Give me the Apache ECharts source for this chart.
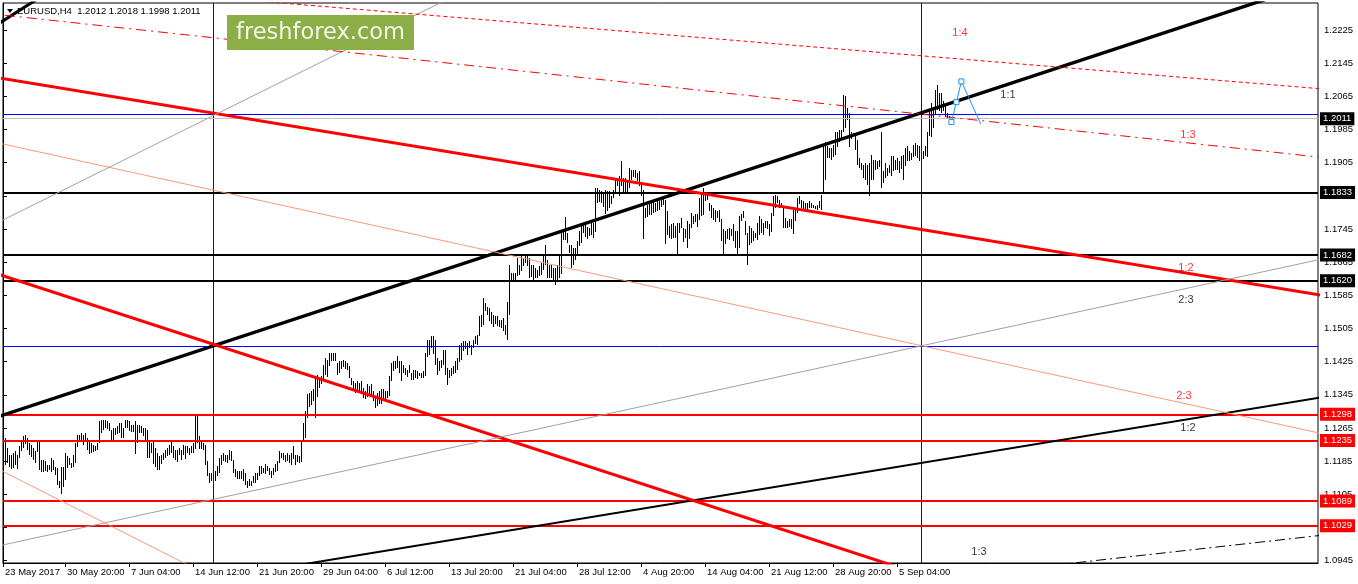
<!DOCTYPE html>
<html><head><meta charset="utf-8">
<script src="https://cdn.jsdelivr.net/npm/echarts@6/dist/echarts.min.js"></script>
<style>html,body{margin:0;padding:0;background:#fff}#c{width:1358px;height:584px}</style>
</head><body><div id="c"></div>
<script>
// ---- data ----
const FIRST_BAR = 1; // index of first bar in highs/lows
const highs = [
1.1241,1.1217,1.1201,1.1201,1.1205,1.1209,1.1201,1.1221,1.1233,1.1245,
1.1247,1.1241,1.1229,1.1225,1.1217,1.1209,1.1237,1.1237,1.1189,1.1189,
1.1185,1.1176,1.1176,1.1193,1.1189,1.1172,1.1168,1.1136,1.1172,1.1172,
1.1205,1.1197,1.1193,1.1180,1.1201,1.1229,1.1249,1.1249,1.1253,1.1249,
1.1253,1.1241,1.1233,1.1229,1.1225,1.1221,1.1229,1.1281,1.1285,1.1285,
1.1285,1.1281,1.1277,1.1261,1.1265,1.1265,1.1269,1.1277,1.1277,1.1265,
1.1285,1.1285,1.1281,1.1273,1.1273,1.1281,1.1273,1.1273,1.1269,1.1265,
1.1265,1.1261,1.1233,1.1229,1.1237,1.1217,1.1205,1.1197,1.1201,1.1205,
1.1213,1.1217,1.1225,1.1233,1.1221,1.1213,1.1213,1.1217,1.1213,1.1225,
1.1221,1.1221,1.1217,1.1221,1.1229,1.1293,1.1293,1.1245,1.1233,1.1229,
1.1225,1.1185,1.1157,1.1157,1.1157,1.1161,1.1173,1.1193,1.1201,1.1205,
1.1201,1.1201,1.1213,1.1209,1.1189,1.1165,1.1161,1.1161,1.1161,1.1165,
1.1157,1.1137,1.1141,1.1137,1.1149,1.1157,1.1157,1.1173,1.1173,1.1169,
1.1177,1.1173,1.1169,1.1161,1.1169,1.1177,1.1185,1.1209,1.1205,1.1205,
1.1201,1.1205,1.1201,1.1205,1.1221,1.1201,1.1201,1.1197,1.1237,1.1277,
1.1305,1.1346,1.1350,1.1354,1.1358,1.1386,1.1394,1.1386,1.1390,1.1418,
1.1434,1.1430,1.1446,1.1446,1.1446,1.1446,1.1422,1.1426,1.1426,1.1428,
1.1426,1.1422,1.1414,1.1386,1.1378,1.1374,1.1378,1.1374,1.1378,1.1362,
1.1354,1.1370,1.1366,1.1370,1.1354,1.1342,1.1350,1.1354,1.1358,1.1358,
1.1354,1.1354,1.1390,1.1422,1.1426,1.1426,1.1438,1.1426,1.1426,1.1418,
1.1410,1.1406,1.1418,1.1398,1.1406,1.1406,1.1402,1.1398,1.1398,1.1402,
1.1446,1.1478,1.1478,1.1486,1.1486,1.1478,1.1434,1.1426,1.1430,1.1454,
1.1454,1.1410,1.1406,1.1410,1.1414,1.1426,1.1434,1.1466,1.1470,1.1474,
1.1474,1.1470,1.1474,1.1466,1.1478,1.1486,1.1490,1.1534,1.1538,1.1579,
1.1566,1.1558,1.1554,1.1546,1.1538,1.1534,1.1534,1.1526,1.1526,1.1530,
1.1514,1.1570,1.1659,1.1639,1.1639,1.1639,1.1675,1.1659,
1.1679,1.1675,1.1683,1.1679,1.1675,1.1659,1.1659,1.1651,1.1647,1.1655,
1.1663,1.1683,1.1707,1.1671,1.1659,1.1659,1.1651,1.1651,1.1659,1.1679,
1.1739,1.1743,1.1775,1.1735,1.1707,1.1707,1.1699,1.1699,1.1715,1.1739,
1.1759,1.1755,1.1763,1.1751,1.1747,1.1759,1.1759,1.1844,1.1844,1.1840,
1.1836,1.1832,1.1840,1.1836,1.1836,1.1824,1.1840,1.1868,1.1868,1.1872,
1.1908,1.1868,1.1868,1.1864,1.1892,1.1888,1.1888,1.1888,1.1880,1.1884,
1.1856,1.1840,1.1795,1.1804,1.1808,1.1808,1.1812,1.1808,1.1812,1.1812,
1.1820,1.1820,
1.1816,1.1788,1.1752,1.1756,1.1760,1.1752,1.1760,1.1760,1.1772,1.1748,
1.1744,1.1764,1.1756,1.1784,1.1776,1.1780,1.1780,1.1820,1.1832,1.1844,
1.1832,1.1832,1.1808,1.1804,1.1796,1.1792,1.1788,1.1792,1.1768,1.1744,
1.1739,1.1744,1.1748,1.1744,1.1756,1.1739,1.1739,1.1776,1.1780,1.1788,
1.1764,1.1735,1.1752,1.1748,1.1739,1.1735,1.1760,1.1776,1.1768,1.1760,
1.1764,1.1764,1.1756,1.1784,1.1824,1.1828,1.1824,1.1816,1.1808,1.1800,
1.1772,1.1764,1.1768,1.1768,1.1792,1.1796,1.1820,1.1824,1.1816,1.1812,
1.1808,1.1808,1.1812,
1.1808,1.1804,1.1800,1.1804,1.1812,1.1828,1.1944,1.1956,1.1944,1.1940,
1.1940,1.1948,1.1980,1.1980,1.1984,1.1984,1.2069,1.2065,1.2037,1.2025,
1.1980,1.1976,1.1972,1.1960,1.1916,1.1904,1.1900,1.1904,1.1900,1.1904,
1.1924,1.1912,1.1912,1.1908,1.1912,1.1980,1.1884,1.1904,1.1892,1.1900,
1.1920,1.1920,1.1912,1.1916,1.1908,1.1920,1.1924,1.1940,1.1944,1.1932,
1.1928,1.1948,1.1952,1.1948,1.1944,1.1936,1.1932,1.1944,1.1980,1.2029,
1.2049,1.2037,1.2081,1.2093,1.2073,1.2073,1.2053,1.2045,1.2025,1.2018
];
const lows = [
1.1176,1.1180,1.1172,1.1168,1.1168,1.1176,1.1168,1.1193,1.1209,1.1217,
1.1225,1.1213,1.1201,1.1197,1.1189,1.1180,1.1209,1.1164,1.1160,1.1160,
1.1160,1.1160,1.1164,1.1160,1.1164,1.1152,1.1128,1.1120,1.1108,1.1124,
1.1140,1.1168,1.1176,1.1168,1.1172,1.1180,1.1221,1.1233,1.1233,1.1225,
1.1237,1.1213,1.1201,1.1205,1.1209,1.1209,1.1213,1.1229,1.1253,1.1261,
1.1265,1.1261,1.1257,1.1233,1.1237,1.1249,1.1249,1.1253,1.1241,1.1241,
1.1265,1.1265,1.1257,1.1257,1.1257,1.1201,1.1229,1.1253,1.1253,1.1245,
1.1237,1.1193,1.1193,1.1205,1.1180,1.1172,1.1164,1.1164,1.1180,1.1189,
1.1193,1.1197,1.1201,1.1205,1.1193,1.1189,1.1185,1.1201,1.1189,1.1201,
1.1189,1.1205,1.1201,1.1205,1.1205,1.1213,1.1229,1.1213,1.1213,1.1213,
1.1177,1.1149,1.1133,1.1137,1.1141,1.1137,1.1149,1.1157,1.1177,1.1185,
1.1185,1.1181,1.1189,1.1185,1.1157,1.1145,1.1141,1.1141,1.1141,1.1137,
1.1129,1.1121,1.1125,1.1125,1.1133,1.1133,1.1141,1.1149,1.1153,1.1157,
1.1153,1.1161,1.1153,1.1145,1.1153,1.1157,1.1161,1.1181,1.1193,1.1189,
1.1185,1.1185,1.1181,1.1177,1.1189,1.1177,1.1185,1.1181,1.1185,1.1233,
1.1241,1.1289,1.1317,1.1321,1.1329,1.1289,1.1341,1.1362,1.1370,1.1382,
1.1394,1.1390,1.1414,1.1426,1.1426,1.1426,1.1394,1.1398,1.1406,1.1410,
1.1406,1.1406,1.1386,1.1370,1.1354,1.1350,1.1354,1.1354,1.1346,1.1338,
1.1334,1.1338,1.1346,1.1342,1.1330,1.1314,1.1318,1.1322,1.1322,1.1330,
1.1330,1.1338,1.1342,1.1378,1.1402,1.1406,1.1410,1.1398,1.1378,1.1398,
1.1394,1.1390,1.1398,1.1382,1.1382,1.1386,1.1382,1.1390,1.1386,1.1386,
1.1390,1.1438,1.1442,1.1458,1.1442,1.1418,1.1394,1.1402,1.1410,1.1418,
1.1394,1.1370,1.1386,1.1390,1.1394,1.1398,1.1406,1.1426,1.1430,1.1450,
1.1454,1.1442,1.1458,1.1442,1.1458,1.1466,1.1466,1.1486,1.1510,1.1514,
1.1546,1.1538,1.1522,1.1518,1.1510,1.1514,1.1510,1.1510,1.1506,1.1498,
1.1490,1.1478,1.1538,1.1623,1.1619,1.1623,1.1631,1.1635,
1.1643,1.1655,1.1663,1.1655,1.1627,1.1631,1.1623,1.1627,1.1627,1.1631,
1.1635,1.1647,1.1659,1.1627,1.1627,1.1627,1.1619,1.1611,1.1619,1.1627,
1.1635,1.1719,1.1719,1.1711,1.1687,1.1651,1.1659,1.1671,1.1679,1.1703,
1.1711,1.1735,1.1727,1.1723,1.1727,1.1731,1.1723,1.1739,1.1808,1.1812,
1.1808,1.1799,1.1783,1.1787,1.1795,1.1804,1.1820,1.1832,1.1848,1.1824,
1.1848,1.1832,1.1832,1.1832,1.1844,1.1864,1.1872,1.1868,1.1860,1.1848,
1.1824,1.1723,1.1771,1.1775,1.1779,1.1779,1.1783,1.1787,1.1787,1.1791,
1.1799,1.1804,
1.1711,1.1731,1.1723,1.1719,1.1723,1.1723,1.1683,1.1735,1.1748,1.1715,
1.1723,1.1699,1.1719,1.1748,1.1756,1.1760,1.1748,1.1768,1.1776,1.1780,
1.1812,1.1816,1.1788,1.1772,1.1768,1.1764,1.1772,1.1764,1.1715,1.1683,
1.1707,1.1719,1.1719,1.1727,1.1715,1.1699,1.1679,1.1699,1.1764,1.1772,
1.1731,1.1659,1.1707,1.1711,1.1715,1.1723,1.1719,1.1731,1.1735,1.1731,
1.1748,1.1744,1.1727,1.1739,1.1776,1.1796,1.1808,1.1796,1.1796,1.1748,
1.1748,1.1748,1.1748,1.1744,1.1735,1.1764,1.1784,1.1804,1.1796,1.1792,
1.1792,1.1788,1.1796,
1.1796,1.1796,1.1792,1.1792,1.1796,1.1792,1.1828,1.1864,1.1916,1.1916,
1.1912,1.1920,1.1924,1.1944,1.1956,1.1960,1.1980,1.1988,1.2009,1.1944,
1.1964,1.1968,1.1936,1.1900,1.1892,1.1888,1.1868,1.1864,1.1852,1.1824,
1.1864,1.1864,1.1888,1.1888,1.1896,1.1844,1.1856,1.1868,1.1872,1.1880,
1.1872,1.1884,1.1888,1.1888,1.1880,1.1888,1.1864,1.1896,1.1908,1.1908,
1.1912,1.1920,1.1920,1.1916,1.1908,1.1916,1.1912,1.1920,1.1920,1.1968,
1.1968,1.1988,1.2021,1.2033,1.2029,1.2025,1.2029,1.2017,1.2013,1.1998
];
const tickLabels = ["23 May 2017","30 May 20:00","7 Jun 04:00","14 Jun 12:00","21 Jun 20:00","29 Jun 04:00","6 Jul 12:00","13 Jul 20:00","21 Jul 04:00","28 Jul 12:00","4 Aug 20:00","14 Aug 04:00","21 Aug 12:00","28 Aug 20:00","5 Sep 04:00"];
const tickBars = [0,31,63,95,127,159,191,223,255,287,319,351,383,415,447];
const priceTicks = [1.0945,1.1025,1.1105,1.1185,1.1265,1.1345,1.1425,1.1505,1.1585,1.1665,1.1745,1.1825,1.1905,1.1985,1.2065,1.2145,1.2225];
const blackLevels = [1.1833,1.1682,1.1620];
const redLevels = [1.1298,1.1235,1.1089,1.1029];
const bidPrice = 1.2011;
const blueLevels = [1.2022,1.1463];
const blueVerticalBars = [105,459];
const titleText = "EURUSD,H4  1.2012 1.2018 1.1998 1.2011";
// trend line anchors [bar, price]
const trendAnchors = {
  fanMain:   [[105,1.1463],[401,1.1933]],
  fanTop:    [[0,1.2247],[14,1.2290]],
  fan12:     [[573.5,1.1271],[657,1.1337]],
  fan13:     [[573.5,1.0960],[657,1.1005]],
  redUpper:  [[0,1.2108],[657,1.1587]],
  redLower:  [[0,1.1632],[439.5,1.0942]],
  salmon:    [[0,1.1950],[657,1.1254]],
  salmonLeft:[[0,1.1160],[27.5,1.1093]],
  grayUp:    [[21,1.1817],[218.5,1.2290]],
  grayLow:   [[0,1.0983],[657,1.1670]],
  red14:     [[137,1.2291],[657,1.2084]],
  red13:     [[0,1.2261],[657,1.1919]]
};
const ratioLabels = [
  {text:'1:4', bar:478.5, price:1.2218, kind:'red'},
  {text:'1:1', bar:502.5, price:1.2068, kind:'black'},
  {text:'1:3', bar:592.5, price:1.1972, kind:'red'},
  {text:'1:2', bar:591.5, price:1.1651, kind:'red'},
  {text:'2:3', bar:591.5, price:1.1574, kind:'black'},
  {text:'2:3', bar:590.5, price:1.1342, kind:'red'},
  {text:'1:2', bar:592.5, price:1.1265, kind:'black'},
  {text:'1:3', bar:488,   price:1.0966, kind:'black'}
];
const patternPts = [[474.2,1.2003],[476.7,1.2051],[479.2,1.2101],[488.9,1.1998]];

// ---- styles / layout ----
const X_MIN = 0, X_MAX = 657.5, Y_MIN = 1.09394, Y_MAX = 1.22901;
const FONT = 'Liberation Sans';
const lineStyles = {
  fanMain:{color:'#000',width:3.4}, fanTop:{color:'#000',width:3},
  fan12:{color:'#000',width:2}, fan13:{color:'#000',width:1,type:[10,4,2,4]},
  redUpper:{color:'#ff0000',width:3}, redLower:{color:'#ff0000',width:3},
  salmon:{color:'#f89a78',width:1}, salmonLeft:{color:'#f89a78',width:1},
  grayUp:{color:'#a0a0a0',width:1}, grayLow:{color:'#a0a0a0',width:1},
  red14:{color:'#ff0000',width:1,type:[4,3]}, red13:{color:'#ff0000',width:1,type:[10,5,2,5]}
};
function ray(a,b){
  const s=(b[1]-a[1])/(b[0]-a[0]);
  const x0=X_MIN-10, x1=X_MAX+10;
  return [[x0,a[1]+s*(x0-a[0])],[x1,a[1]+s*(x1-a[0])]];
}
const series = [];
series.push({
  type:'custom', name:'bars', silent:true, z:3, clip:true,
  data: highs.map((h,i)=>[i+FIRST_BAR,h,lows[i]]),
  encode:{x:0,y:[1,2]},
  renderItem(params, api){
    const x=api.value(0), p1=api.coord([x,api.value(1)]), p2=api.coord([x,api.value(2)]);
    return {type:'rect', shape:{x:Math.round(p1[0]), y:Math.round(p1[1]), width:1, height:Math.max(1,Math.round(p2[1]-p1[1]))}, style:{fill:'#000'}};
  }
});
Object.keys(trendAnchors).forEach(k=>{
  const [a,b]=trendAnchors[k];
  series.push({type:'line', silent:true, clip:true, z:5, symbol:'none', animation:false,
    data: ray(a,b), lineStyle: lineStyles[k]});
});
function levelLabel(bg){
  return {show:true, position:'end', distance:2, formatter:p=>Number(p.value).toFixed(4),
    backgroundColor:bg, color:'#fff', fontFamily:FONT, fontSize:9.5, padding:[2,3,1,3], lineHeight:10};
}
const markData = [];
blueLevels.forEach(v=>markData.push({yAxis:v, lineStyle:{color:'#0000ff',width:1,type:'solid'}, label:{show:false}}));
blueVerticalBars.forEach(v=>markData.push({xAxis:v, lineStyle:{color:'#0000ff',width:1,type:'solid'}, label:{show:false}}));
markData.push({yAxis:bidPrice, lineStyle:{color:'#c0c0c0',width:1,type:'solid'}, label:levelLabel('#000')});
blackLevels.forEach(v=>markData.push({yAxis:v, lineStyle:{color:'#000',width:2,type:'solid'}, label:levelLabel('#000')}));
redLevels.forEach(v=>markData.push({yAxis:v, lineStyle:{color:'#ff0000',width:2,type:'solid'}, label:levelLabel('#ff0000')}));
series.push({type:'line', data:[], silent:true, z:4, animation:false,
  markLine:{symbol:'none', silent:true, animation:false, precision:5, data:markData}});
series.push({type:'line', silent:true, z:6, animation:false, clip:false,
  data: patternPts.map((p,i)=>({value:p, symbol: i<3?'rect':'none'})),
  symbolSize:5, showAllSymbol:true,
  itemStyle:{color:'#fff', borderColor:'#1e90ff', borderWidth:1},
  lineStyle:{color:'#1e90ff', width:1}});
series.push({type:'scatter', silent:true, z:7, animation:false, symbolSize:1,
  itemStyle:{color:'rgba(0,0,0,0)'},
  data: ratioLabels.map(r=>({value:[r.bar,r.price], name:r.text,
    label:{show:true, position:'inside', formatter:r.text, color: r.kind==='red'?'#ff0000':'#000', fontFamily:FONT, fontSize:11}}))});

const option = {
  animation:false,
  backgroundColor:'#fff',
  grid:{left:3, top:3, width:1315, height:560, show:true, borderColor:'#000', borderWidth:1, backgroundColor:'#fff'},
  xAxis:{type:'value', min:X_MIN, max:X_MAX,
    axisLine:{show:true, lineStyle:{color:'#000'}},
    splitLine:{show:false},
    axisTick:{show:true, customValues:tickBars, length:4, lineStyle:{color:'#000'}},
    axisLabel:{show:true, customValues:tickBars, hideOverlap:false, formatter:v=>tickLabels[tickBars.indexOf(v)],
      align:'left', margin:4, padding:[0,0,0,2], color:'#000', fontFamily:FONT, fontSize:9.5}},
  yAxis:{type:'value', position:'right', min:Y_MIN, max:Y_MAX, scale:true,
    axisLine:{show:true, lineStyle:{color:'#000'}},
    splitLine:{show:false},
    axisTick:{show:true, customValues:priceTicks, length:4, lineStyle:{color:'#000'}},
    axisLabel:{show:true, customValues:priceTicks, hideOverlap:false, formatter:v=>v.toFixed(4),
      margin:6, color:'#000', fontFamily:FONT, fontSize:9.5}},
  graphic:[
    {type:'polygon', shape:{points:[[7,9],[13,9],[10,13]]}, style:{fill:'#000'}, z:100},
    {type:'text', left:17, top:6, style:{text:titleText, fill:'#000', font:'9.5px "Liberation Sans"'}, z:100},
    {type:'rect', shape:{x:227, y:15, width:187, height:35}, style:{fill:'#8cae47'}, z:100},
    {type:'text', x:320.5, y:33, style:{text:'freshforex.com', fill:'#f3f6ea', font:'22.5px "DejaVu Sans"', align:'center', verticalAlign:'middle'}, z:101}
  ],
  series
};
const chart = echarts.init(document.getElementById('c'));
chart.setOption(option);
</script>
</body></html>
